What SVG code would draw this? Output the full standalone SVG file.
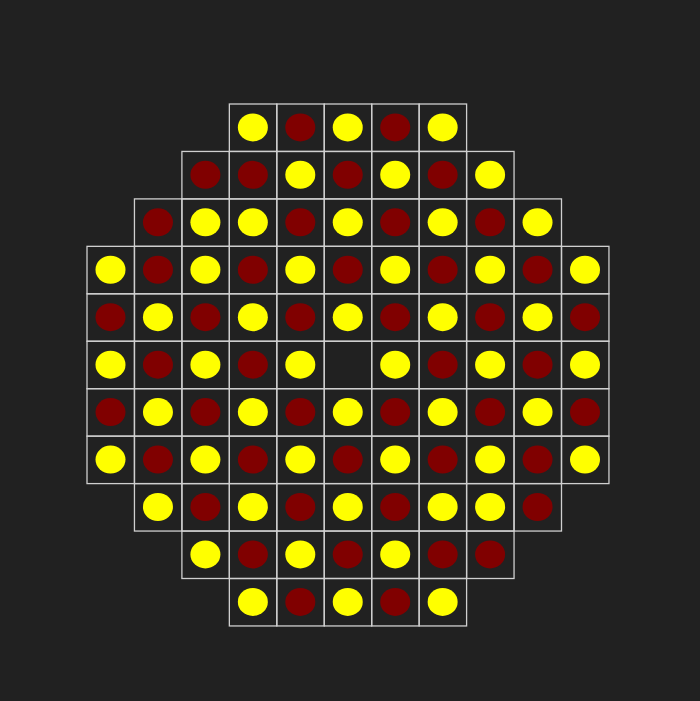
<svg xmlns="http://www.w3.org/2000/svg" width="700" height="701" viewBox="0 0 700 701">
<style>
.cell{fill:none;stroke:#cfcfcf;stroke-width:1.3}
.y{fill:#ffff00}
.r{fill:#800000}
</style>
<defs>
<g id="Y"><rect class="cell" width="47.45" height="47.45"/><ellipse class="y" cx="23.5" cy="23.4" rx="15" ry="14"/></g>
<g id="R"><rect class="cell" width="47.45" height="47.45"/><ellipse class="r" cx="23.5" cy="23.4" rx="15" ry="14"/></g>
<g id="E"><rect class="cell" width="47.45" height="47.45"/></g>
</defs>
<rect width="700" height="701" fill="#212121"/>
<g id="row0">
<use id="r0c3" href="#Y" x="229.35" y="104"/><use id="r0c4" href="#R" x="276.8" y="104"/><use id="r0c5" href="#Y" x="324.25" y="104"/><use id="r0c6" href="#R" x="371.7" y="104"/><use id="r0c7" href="#Y" x="419.15" y="104"/>
</g>
<g id="row1">
<use id="r1c2" href="#R" x="181.9" y="151.45"/><use id="r1c3" href="#R" x="229.35" y="151.45"/><use id="r1c4" href="#Y" x="276.8" y="151.45"/><use id="r1c5" href="#R" x="324.25" y="151.45"/><use id="r1c6" href="#Y" x="371.7" y="151.45"/><use id="r1c7" href="#R" x="419.15" y="151.45"/><use id="r1c8" href="#Y" x="466.6" y="151.45"/>
</g>
<g id="row2">
<use id="r2c1" href="#R" x="134.45" y="198.9"/><use id="r2c2" href="#Y" x="181.9" y="198.9"/><use id="r2c3" href="#Y" x="229.35" y="198.9"/><use id="r2c4" href="#R" x="276.8" y="198.9"/><use id="r2c5" href="#Y" x="324.25" y="198.9"/><use id="r2c6" href="#R" x="371.7" y="198.9"/><use id="r2c7" href="#Y" x="419.15" y="198.9"/><use id="r2c8" href="#R" x="466.6" y="198.9"/><use id="r2c9" href="#Y" x="514.05" y="198.9"/>
</g>
<g id="row3">
<use id="r3c0" href="#Y" x="87" y="246.35"/><use id="r3c1" href="#R" x="134.45" y="246.35"/><use id="r3c2" href="#Y" x="181.9" y="246.35"/><use id="r3c3" href="#R" x="229.35" y="246.35"/><use id="r3c4" href="#Y" x="276.8" y="246.35"/><use id="r3c5" href="#R" x="324.25" y="246.35"/><use id="r3c6" href="#Y" x="371.7" y="246.35"/><use id="r3c7" href="#R" x="419.15" y="246.35"/><use id="r3c8" href="#Y" x="466.6" y="246.35"/><use id="r3c9" href="#R" x="514.05" y="246.35"/><use id="r3c10" href="#Y" x="561.5" y="246.35"/>
</g>
<g id="row4">
<use id="r4c0" href="#R" x="87" y="293.8"/><use id="r4c1" href="#Y" x="134.45" y="293.8"/><use id="r4c2" href="#R" x="181.9" y="293.8"/><use id="r4c3" href="#Y" x="229.35" y="293.8"/><use id="r4c4" href="#R" x="276.8" y="293.8"/><use id="r4c5" href="#Y" x="324.25" y="293.8"/><use id="r4c6" href="#R" x="371.7" y="293.8"/><use id="r4c7" href="#Y" x="419.15" y="293.8"/><use id="r4c8" href="#R" x="466.6" y="293.8"/><use id="r4c9" href="#Y" x="514.05" y="293.8"/><use id="r4c10" href="#R" x="561.5" y="293.8"/>
</g>
<g id="row5">
<use id="r5c0" href="#Y" x="87" y="341.25"/><use id="r5c1" href="#R" x="134.45" y="341.25"/><use id="r5c2" href="#Y" x="181.9" y="341.25"/><use id="r5c3" href="#R" x="229.35" y="341.25"/><use id="r5c4" href="#Y" x="276.8" y="341.25"/><use id="r5c5" href="#E" x="324.25" y="341.25"/><use id="r5c6" href="#Y" x="371.7" y="341.25"/><use id="r5c7" href="#R" x="419.15" y="341.25"/><use id="r5c8" href="#Y" x="466.6" y="341.25"/><use id="r5c9" href="#R" x="514.05" y="341.25"/><use id="r5c10" href="#Y" x="561.5" y="341.25"/>
</g>
<g id="row6">
<use id="r6c0" href="#R" x="87" y="388.7"/><use id="r6c1" href="#Y" x="134.45" y="388.7"/><use id="r6c2" href="#R" x="181.9" y="388.7"/><use id="r6c3" href="#Y" x="229.35" y="388.7"/><use id="r6c4" href="#R" x="276.8" y="388.7"/><use id="r6c5" href="#Y" x="324.25" y="388.7"/><use id="r6c6" href="#R" x="371.7" y="388.7"/><use id="r6c7" href="#Y" x="419.15" y="388.7"/><use id="r6c8" href="#R" x="466.6" y="388.7"/><use id="r6c9" href="#Y" x="514.05" y="388.7"/><use id="r6c10" href="#R" x="561.5" y="388.7"/>
</g>
<g id="row7">
<use id="r7c0" href="#Y" x="87" y="436.15"/><use id="r7c1" href="#R" x="134.45" y="436.15"/><use id="r7c2" href="#Y" x="181.9" y="436.15"/><use id="r7c3" href="#R" x="229.35" y="436.15"/><use id="r7c4" href="#Y" x="276.8" y="436.15"/><use id="r7c5" href="#R" x="324.25" y="436.15"/><use id="r7c6" href="#Y" x="371.7" y="436.15"/><use id="r7c7" href="#R" x="419.15" y="436.15"/><use id="r7c8" href="#Y" x="466.6" y="436.15"/><use id="r7c9" href="#R" x="514.05" y="436.15"/><use id="r7c10" href="#Y" x="561.5" y="436.15"/>
</g>
<g id="row8">
<use id="r8c1" href="#Y" x="134.45" y="483.6"/><use id="r8c2" href="#R" x="181.9" y="483.6"/><use id="r8c3" href="#Y" x="229.35" y="483.6"/><use id="r8c4" href="#R" x="276.8" y="483.6"/><use id="r8c5" href="#Y" x="324.25" y="483.6"/><use id="r8c6" href="#R" x="371.7" y="483.6"/><use id="r8c7" href="#Y" x="419.15" y="483.6"/><use id="r8c8" href="#Y" x="466.6" y="483.6"/><use id="r8c9" href="#R" x="514.05" y="483.6"/>
</g>
<g id="row9">
<use id="r9c2" href="#Y" x="181.9" y="531.05"/><use id="r9c3" href="#R" x="229.35" y="531.05"/><use id="r9c4" href="#Y" x="276.8" y="531.05"/><use id="r9c5" href="#R" x="324.25" y="531.05"/><use id="r9c6" href="#Y" x="371.7" y="531.05"/><use id="r9c7" href="#R" x="419.15" y="531.05"/><use id="r9c8" href="#R" x="466.6" y="531.05"/>
</g>
<g id="row10">
<use id="r10c3" href="#Y" x="229.35" y="578.5"/><use id="r10c4" href="#R" x="276.8" y="578.5"/><use id="r10c5" href="#Y" x="324.25" y="578.5"/><use id="r10c6" href="#R" x="371.7" y="578.5"/><use id="r10c7" href="#Y" x="419.15" y="578.5"/>
</g>
</svg>
